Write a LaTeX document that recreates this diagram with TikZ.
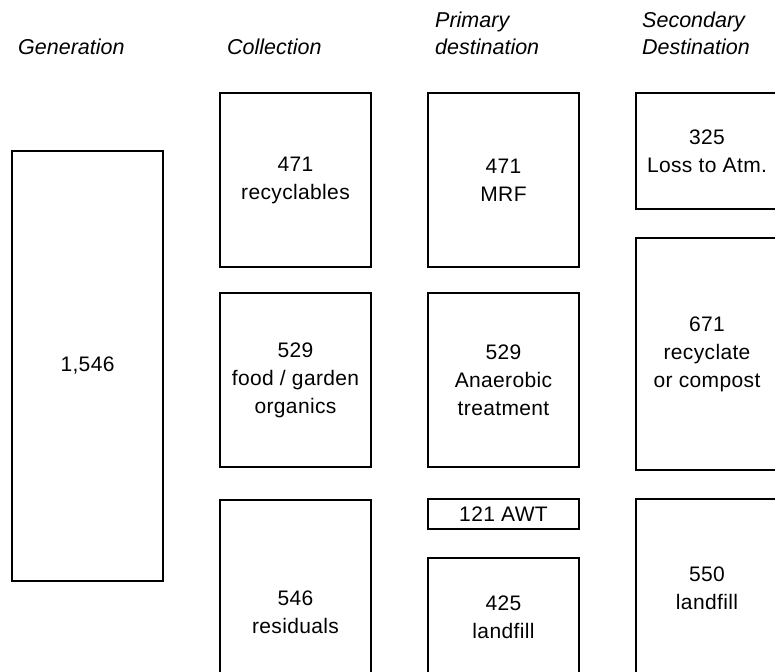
\documentclass[tikz,border=0pt]{standalone}
\usepackage{fontspec}
\setmainfont{Liberation Sans}
\newfontfamily\boxfont[LetterSpace=1.7]{Liberation Sans}
\begin{document}
\begin{tikzpicture}[x=1pt,y=-1pt,
  flowbox/.style={draw=black,line width=1.8pt,rectangle,inner sep=0pt,align=center,
    font=\boxfont\fontsize{21}{28}\selectfont},
  head/.style={anchor=base west,inner sep=0pt,font=\fontsize{21.5}{27}\selectfont\itshape}]
\useasboundingbox (0,0) rectangle (775,671);
\clip (0,0) rectangle (775,671);
% headings
\node[head] (hgen) at (18,55) {Generation};
\node[head] (hcol) at (227,55) {Collection};
\node[head] (hpri1) at (435,28) {Primary};
\node[head] (hpri2) at (435,55) {destination};
\node[head] (hsec1) at (642,28) {Secondary};
\node[head] (hsec2) at (642,55) {Destination};
% generation
\node[flowbox,minimum width=151,minimum height=430] (gen) at (87.5,366) {1,546};
% collection
\node[flowbox,minimum width=151,minimum height=174] (crec) at (295.5,180) {471\\recyclables};
\node[flowbox,minimum width=151,minimum height=174] (corg) at (295.5,380) {529\\food / garden\\organics};
\node[flowbox,minimum width=151,minimum height=224] (cres) at (295.5,612) {546\\residuals};
% primary destination
\node[flowbox,minimum width=151,minimum height=174] (pmrf) at (503.5,180) {471\\MRF};
\node[flowbox,minimum width=151,minimum height=174] (pana) at (503.5,380) {529\\Anaerobic\\treatment};
\node[flowbox,minimum width=151,minimum height=30] (pawt) at (503.5,514) {121 AWT};
\node[flowbox,minimum width=151,minimum height=118] (plf) at (503.5,617) {425\\landfill};
% secondary destination
\node[flowbox,minimum width=142,minimum height=116] (sloss) at (707,151) {325\\Loss to Atm.};
\node[flowbox,minimum width=142,minimum height=232] (srec) at (707,354) {671\\recyclate\\or compost};
\node[flowbox,minimum width=142,minimum height=178] (slf) at (707,588) {550\\landfill};
\end{tikzpicture}
\end{document}
